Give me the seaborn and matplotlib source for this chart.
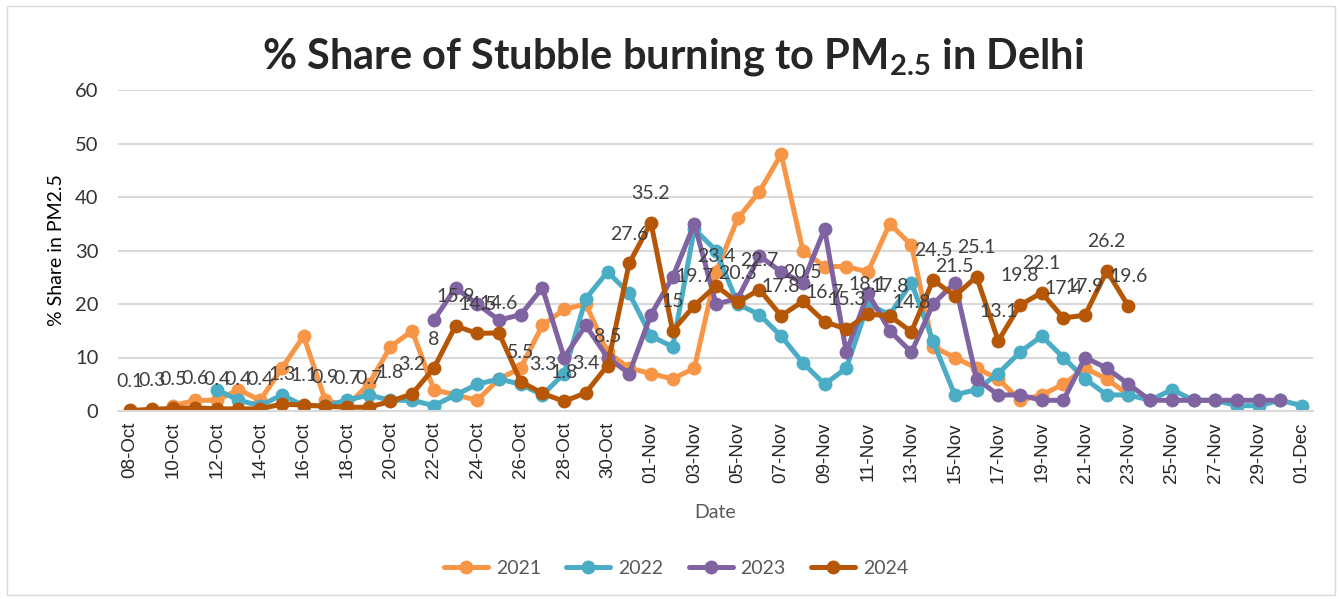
import numpy as np
import pandas as pd
import matplotlib
matplotlib.use('Agg')
import matplotlib.pyplot as plt
from matplotlib.lines import Line2D
from matplotlib.patches import Rectangle
import seaborn as sns

sns.set_style('white')
plt.rcParams['font.family'] = ['Lato', 'DejaVu Sans']
plt.rcParams['mathtext.fontset'] = 'custom'
plt.rcParams['mathtext.rm'] = 'Lato:bold'

N = None
# one value per day, 08-Oct .. 01-Dec
share_2021 = [N, N, 1, 2, 2, 4, 2, 8, 14, 2, 1, 5, 12, 15, 4, 3, 2, 6, 8, 16,
              19, 20, 11, 8,
              7, 6, 8, 26, 36, 41, 48, 30, 27, 27, 26, 35, 31, 12, 10, 8, 6,
              2, 3, 5, 8, 6, 3, N, N, N, N, N, N, N, N]
share_2022 = [N, N, N, N, 4, 2, 1, 3, 1, 1, 2, 3, 2, 2, 1, 3, 5, 6, 5, 3,
              7, 21, 26, 22,
              14, 12, 34, 30, 20, 18, 14, 9, 5, 8, 20, 18, 24, 13, 3, 4, 7,
              11, 14, 10, 6, 3, 3, 2, 4, 2, 2, 1, 1, 2, 1]
share_2023 = [N, N, N, N, N, N, N, N, N, N, N, N, N, N, 17, 23, 20, 17, 18,
              23, 10, 16, 10, 7,
              18, 25, 35, 20, 21, 29, 26, 24, 34, 11, 22, 15, 11, 20, 24, 6,
              3, 3, 2, 2, 10, 8, 5, 2, 2, 2, 2, 2, 2, 2, N]
share_2024 = [0.1, 0.3, 0.5, 0.6, 0.4, 0.4, 0.4, 1.3, 1.1, 0.9, 0.7, 0.7, 1.8,
              3.2, 8, 15.9, 14.5, 14.6, 5.5, 3.3, 1.8, 3.4, 8.5, 27.6,
              35.2, 15, 19.7, 23.4, 20.3, 22.7, 17.8, 20.5, 16.7, 15.3, 18.1,
              17.8, 14.8, 24.5, 21.5, 25.1, 13.1, 19.8, 22.1, 17.4, 17.9, 26.2,
              19.6, N, N, N, N, N, N, N, N]
years = ['2021', '2022', '2023', '2024']
colors = ['#F79646', '#4BACC6', '#8064A2', '#B65708']
dates = pd.date_range('2021-10-08', '2021-12-01').strftime('%d-%b').tolist()

df = pd.DataFrame({'Day': range(len(dates)), '2021': share_2021,
                   '2022': share_2022, '2023': share_2023, '2024': share_2024})
df = df.melt(id_vars='Day', var_name='Year', value_name='Share').dropna()

fig = plt.figure(figsize=(13.39, 5.99), dpi=100)
ax = fig.add_axes([118 / 1339, 188 / 599, 1195 / 1339, 321 / 599])

sns.lineplot(data=df, x='Day', y='Share', hue='Year', hue_order=years,
             palette=colors, marker='o', markersize=10, markeredgewidth=0,
             linewidth=3.6, legend=False, ax=ax)

for i, v in enumerate(share_2024):
    if v is not None:
        ax.annotate(f'{v:g}', (i, v), xytext=(0, 21),
                    textcoords='offset points', ha='center', va='center',
                    fontsize=14, color='#404040')

ax.set_xlim(-0.55, 54.5)
ax.set_ylim(0, 60)
ax.set_yticks(range(0, 61, 10))
ax.tick_params(axis='y', length=0, pad=14, labelsize=14.5, labelcolor='#333333')
ax.set_xticks(range(0, len(dates), 2))
ax.set_xticklabels(dates[::2], rotation=90, fontsize=13.5,
                   family='Liberation Sans')
ax.tick_params(axis='x', which='major', length=0, pad=8)
ax.set_xticks(np.arange(-0.5, len(dates), 2), minor=True)
ax.tick_params(axis='x', which='minor', length=6, color='#d9d9d9', width=1.2)

ax.grid(axis='y', color='#d9d9d9', lw=1.5)
ax.set_axisbelow(True)
for s in ['left', 'right', 'top']:
    ax.spines[s].set_visible(False)
ax.spines['bottom'].set_color('#d9d9d9')
ax.spines['bottom'].set_linewidth(1.5)

ax.set_ylabel('% Share in PM2.5', fontsize=14, color='black')
ax.yaxis.set_label_coords(-0.044, 0.5)
ax.set_xlabel('Date', fontsize=14, color='#595959')
ax.xaxis.set_label_coords(0.5, -0.29)

fig.text(0.5026, 0.885, '% Share of Stubble burning to PM$_{2.5}$ in Delhi',
         ha='center', va='baseline', fontsize=30, fontweight='bold')

handles = [Line2D([], [], color=c, marker='o', markersize=10,
                  markeredgewidth=0, linewidth=3.6) for c in colors]
fig.legend(handles, years, loc='center', bbox_to_anchor=(676 / 1339, 1 - 568 / 599),
           ncol=4, frameon=False, fontsize=14, labelcolor='#595959',
           handlelength=2.27, handletextpad=0.4, columnspacing=1.3)

fig.patches.append(Rectangle((7 / 1339, 4 / 599), 1328 / 1339, 589 / 599,
                             transform=fig.transFigure, fill=False,
                             edgecolor='#d9d9d9', lw=1))

fig.savefig('out.png', dpi=100)
